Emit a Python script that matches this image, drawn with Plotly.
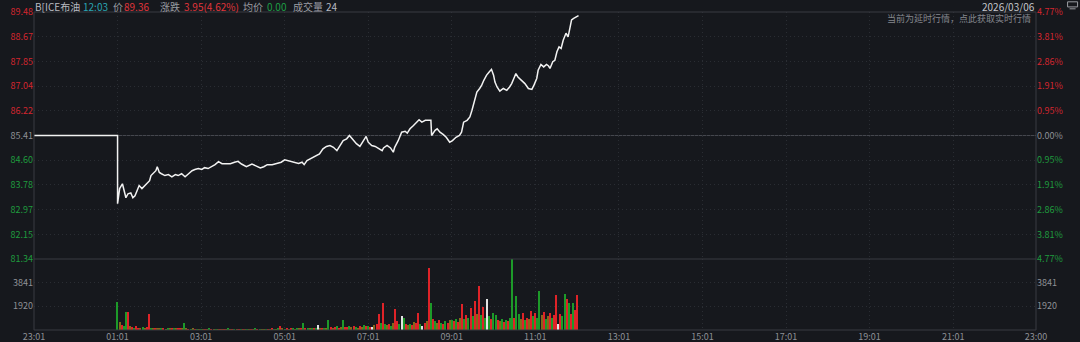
import plotly.graph_objects as go

# ---------------- data ----------------
# time axis: minutes since session start (23:01)
tick_minutes = [0, 120, 240, 360, 480, 600, 720, 840, 960, 1080, 1200, 1320, 1439]
tick_labels = ["23:01", "01:01", "03:01", "05:01", "07:01", "09:01", "11:01",
               "13:01", "15:01", "17:01", "19:01", "21:01", "23:00"]

prev_close = 85.41
price_ticks = [89.48, 88.67, 87.85, 87.04, 86.22, 85.41, 84.60, 83.78, 82.97, 82.15, 81.34]
pct_labels = ["4.77%", "3.81%", "2.86%", "1.91%", "0.95%", "0.00%",
              "0.95%", "1.91%", "2.86%", "3.81%", "4.77%"]
vol_ticks = [1920, 3841]
vol_tick_labels = ["1920", "3841"]
vol_max = 5761

price_t = [0, 120,
           120, 121, 123, 127, 129, 132, 135, 139, 142, 145,
           148, 151, 155, 159, 162, 166, 168, 171, 175, 177,
           180, 183, 188, 193, 198, 203, 207, 212, 217, 222,
           227, 231, 236, 241, 245, 250, 255, 260, 265, 270,
           275, 282, 288, 293, 298, 305, 313, 317, 325, 330,
           335, 342, 348, 355, 360, 365, 372, 380, 385, 388,
           392, 397, 402, 406, 410, 415, 420, 425, 430, 435,
           440, 444, 449, 453, 457, 459, 463, 468, 473, 477,
           480, 485, 490, 495, 500, 502, 507, 512, 516, 518,
           523, 528, 533, 536, 540, 545, 550, 553, 557, 562,
           567, 570, 571, 576, 579, 583, 588, 592, 597, 601,
           606, 611, 614, 617, 622, 626, 629, 632, 636, 640,
           643, 646, 650, 654, 657, 660, 662, 665, 669, 674,
           679, 683, 686, 690, 692, 695, 700, 705, 710, 715,
           718, 722, 724, 728, 732, 736, 739, 741, 745, 748,
           751, 754, 757, 760, 764, 767, 770, 772, 775, 779, 782]
price_v = [85.41, 85.41,
           83.16, 83.33, 83.66, 83.82, 83.59, 83.36, 83.49, 83.52, 83.36, 83.42,
           83.59, 83.76, 83.66, 83.76, 83.82, 83.92, 84.09, 84.15, 84.25, 84.38,
           84.19, 84.15, 84.09, 84.12, 84.05, 84.12, 84.09, 84.15, 84.05, 84.15,
           84.25, 84.29, 84.32, 84.29, 84.35, 84.32, 84.38, 84.45, 84.55, 84.48,
           84.48, 84.48, 84.53, 84.56, 84.47, 84.38, 84.47, 84.42, 84.34, 84.38,
           84.45, 84.45, 84.49, 84.53, 84.61, 84.58, 84.56, 84.49, 84.53, 84.45,
           84.58, 84.64, 84.69, 84.75, 84.80, 84.97, 85.05, 85.08, 85.02, 84.91,
           85.11, 85.24, 85.30, 85.41, 85.30, 85.24, 85.14, 85.05, 85.24, 85.38,
           85.19, 85.08, 85.05, 84.97, 84.91, 85.00, 85.08, 85.00, 84.86, 85.02,
           85.24, 85.52, 85.55, 85.49, 85.63, 85.74, 85.85, 85.93, 85.85, 85.91,
           85.91, 85.91, 85.41, 85.58, 85.63, 85.52, 85.44, 85.35, 85.19, 85.24,
           85.35, 85.41, 85.52, 85.85, 85.91, 86.02, 86.24, 86.51, 86.84, 86.96,
           87.07, 87.23, 87.40, 87.51, 87.59, 87.40, 87.17, 87.01, 86.87, 86.96,
           86.90, 87.01, 87.12, 87.34, 87.45, 87.34, 87.23, 87.12, 86.96, 86.93,
           87.07, 87.29, 87.56, 87.75, 87.67, 87.75, 87.70, 87.62, 87.84, 87.89,
           88.17, 88.33, 88.28, 88.55, 88.78, 88.66, 88.99, 89.22, 89.27, 89.32, 89.36]

# volume: one bar every 3 minutes starting at 01:01 (minute 120)
vol_start = 120
vol_step = 3
volume = [2280, 650, 380, 300, 1500, 1440, 350, 250, 200, 300,
          180, 120, 220, 140, 260, 1310, 200, 150, 120, 180,
          110, 90, 150, 80, 120, 90, 140, 100, 90, 130,
          100, 120, 580, 150, 80, 70, 90, 60, 80, 70,
          60, 80, 50, 70, 90, 60, 50, 70, 60, 80,
          50, 70, 60, 90, 50, 60, 80, 50, 70, 60,
          60, 50, 80, 60, 70, 50, 90, 60, 70, 80,
          60, 80, 70, 60, 90, 70, 80, 100, 300, 90,
          80, 100, 70, 90, 110, 80, 100, 120, 90, 580,
          150, 120, 180, 100, 140, 200, 420, 150, 120, 180,
          200, 800, 250, 180, 220, 300, 200, 260, 830, 240,
          250, 300, 220, 350, 280, 200, 320, 260, 400, 300,
          350, 280, 260, 400, 500, 1310, 600, 2160, 450, 380,
          500, 350, 600, 1710, 700, 500, 1100, 940, 450, 400,
          500, 420, 650, 550, 1340, 480, 300, 600, 750, 5010,
          2180, 900, 700, 600, 800, 560, 500, 700, 600, 800,
          850, 700, 900, 650, 1000, 2070, 900, 1200, 1000, 1800,
          1100, 2360, 1300, 3590, 1200, 1830, 1000, 2500, 1100, 900,
          1400, 1190, 800, 700, 900, 650, 800, 700, 940, 5760,
          1000, 2790, 1290, 900, 1400, 800, 1000, 900, 1580, 1100,
          1400, 1000, 3130, 1200, 1480, 900, 1100, 1400, 1000, 1200,
          2850, 500, 1300, 1100, 2930, 2500, 2200, 1300, 2200, 1650, 2850]
# bar direction: R up, G down, W flat, O mixed
vol_dir = ("GORGGRORGR" "ROGORRGORO" "OGROGORGOR" "ROGORGORGO" "GOROGROGOR"
           "OROGORGORG" "ROGOROGRGO" "OGRORGOGRO" "GRORGOGORG" "RGOGRGWORG"
           "OGRORGROGR" "RGORGOROGR" "GRWORRGRGO" "RGORRGWGRO" "GRORRGWROR"
           "GRGORGRGRO" "GRGRORGRGR" "GRORGRGWGR" "GGROGRGRGG" "RGGORGRORG"
           "RGGORGORGR" "RWRGGRGRGRR")

# ---------------- styling ----------------
BG = "#16181d"
GRID = "#2a2d33"
BORDER = "#383b42"
RED = "#d3262f"
GREEN = "#1f9a3e"
GRAY = "#8e9096"
FONT = "Noto Sans CJK SC"
dir_colors = {"R": "#df2328", "G": "#1d9a29", "W": "#e2e2e2", "O": "#86671a"}

vol_t = [vol_start + vol_step * i for i in range(len(volume))]
bar_colors = [dir_colors[c] for c in vol_dir[:len(volume)]]


def colored(label, value):
    if abs(value - prev_close) < 1e-9:
        c = GRAY
    elif value > prev_close:
        c = RED
    else:
        c = GREEN
    return f'<span style="color:{c}">{label}</span>'


left_text = [colored(f"{v:.2f}", v) for v in price_ticks]
right_text = [colored(l, v) for l, v in zip(pct_labels, price_ticks)]

fig = go.Figure()
fig.add_trace(go.Scatter(x=price_t, y=price_v, mode="lines",
                         line=dict(color="#f2f2f2", width=1.5),
                         xaxis="x", yaxis="y", hoverinfo="skip"))
fig.add_trace(go.Bar(x=vol_t, y=volume, width=1.7,
                     marker=dict(color=bar_colors, line=dict(width=0)),
                     xaxis="x", yaxis="y2", hoverinfo="skip"))
# helper traces so the right-hand axes are created
fig.add_trace(go.Scatter(x=[0], y=[prev_close], mode="lines", xaxis="x", yaxis="y3",
                         hoverinfo="skip", line=dict(width=0)))
fig.add_trace(go.Scatter(x=[0], y=[0], mode="lines", xaxis="x", yaxis="y4",
                         hoverinfo="skip", line=dict(width=0)))

split = (330 - 259) / 318
GRIDDASH = "1px,3px"

common_y = dict(ticks="", showline=False, zeroline=False, fixedrange=True, automargin=False,
                tickfont=dict(family=FONT, size=9, color=GRAY))

fig.update_layout(
    width=1080, height=342,
    margin=dict(l=34, r=44, t=12, b=12, autoexpand=False),
    paper_bgcolor=BG, plot_bgcolor=BG,
    showlegend=False, bargap=0,
    font=dict(family=FONT, size=9, color=GRAY),
    xaxis=dict(range=[0, 1439], domain=[0, 1], anchor="y2", automargin=False,
               tickvals=tick_minutes, ticktext=tick_labels,
               showgrid=True, gridcolor=GRID, griddash=GRIDDASH, gridwidth=1,
               ticks="", showline=False, zeroline=False,
               tickfont=dict(family=FONT, size=9, color=GRAY)),
    yaxis=dict(domain=[split, 1], range=[price_ticks[-1], price_ticks[0]],
               tickvals=price_ticks, ticktext=left_text, side="left",
               showgrid=True, gridcolor=GRID, griddash=GRIDDASH, **common_y),
    yaxis2=dict(domain=[0, split], range=[0, vol_max],
                tickvals=vol_ticks, ticktext=vol_tick_labels, side="left",
                showgrid=True, gridcolor=GRID, griddash=GRIDDASH, **common_y),
    yaxis3=dict(overlaying="y", side="right", range=[price_ticks[-1], price_ticks[0]],
                tickvals=price_ticks, ticktext=right_text, showgrid=False, **common_y),
    yaxis4=dict(overlaying="y2", side="right", range=[0, vol_max],
                tickvals=vol_ticks, ticktext=vol_tick_labels, showgrid=False, **common_y),
)

HY = (330 - 6.5) / 318  # header text centre line (paper coords)

shapes = [
    dict(type="line", xref="paper", yref="y", x0=0, x1=1, y0=prev_close, y1=prev_close,
         line=dict(color="#45474e", width=1), layer="below"),
    dict(type="rect", xref="paper", yref="paper", x0=0, x1=1, y0=0, y1=1,
         line=dict(color=BORDER, width=1)),
    dict(type="line", xref="paper", yref="paper", x0=0, x1=1, y0=split, y1=split,
         line=dict(color=BORDER, width=1)),
    # small monitor icon top right
    dict(type="rect", xref="paper", yref="paper", x0=1.0315, x1=1.0415, y0=1.016, y1=1.032,
         line=dict(color="#9a9ca2", width=1)),
    dict(type="line", xref="paper", yref="paper", x0=1.0335, x1=1.0395, y0=1.010, y1=1.010,
         line=dict(color="#9a9ca2", width=1)),
]
fig.update_layout(shapes=shapes)

header = [
    ("B[ICE布油", "#b8bbc1", 0.0),
    ("12:03", "#2aa5b3", 0.0476),
    ("价", "#9a9ca2", 0.0775),
    ("89.36", "#e0353b", 0.0888),
    ("涨跌", "#9a9ca2", 0.1247),
    ("3.95(4.62%)", "#e0353b", 0.1487),
    ("均价", "#9a9ca2", 0.2073),
    ("0.00", "#1e9e45", 0.2312),
    ("成交量", "#9a9ca2", 0.2572),
    ("24", "#b8bbc1", 0.2904),
]
ann = []
for text, color, x in header:
    ann.append(dict(text=text, x=x, y=HY, xref="paper", yref="paper",
                    xanchor="left", yanchor="middle", showarrow=False, borderpad=0,
                    font=dict(family=FONT, size=10, color=color)))
ann.append(dict(text="2026/03/06", x=1.0, y=HY, xref="paper", yref="paper",
                xanchor="right", yanchor="middle", showarrow=False, borderpad=0,
                font=dict(family=FONT, size=10, color="#c4c6cb")))
ann.append(dict(text="当前为延时行情，点此获取实时行情", x=0.996, y=0.981,
                xref="paper", yref="paper", xanchor="right", yanchor="middle",
                showarrow=False, borderpad=0,
                font=dict(family=FONT, size=9, color="#85878d")))
fig.update_layout(annotations=ann)

fig.write_html("out.html")
